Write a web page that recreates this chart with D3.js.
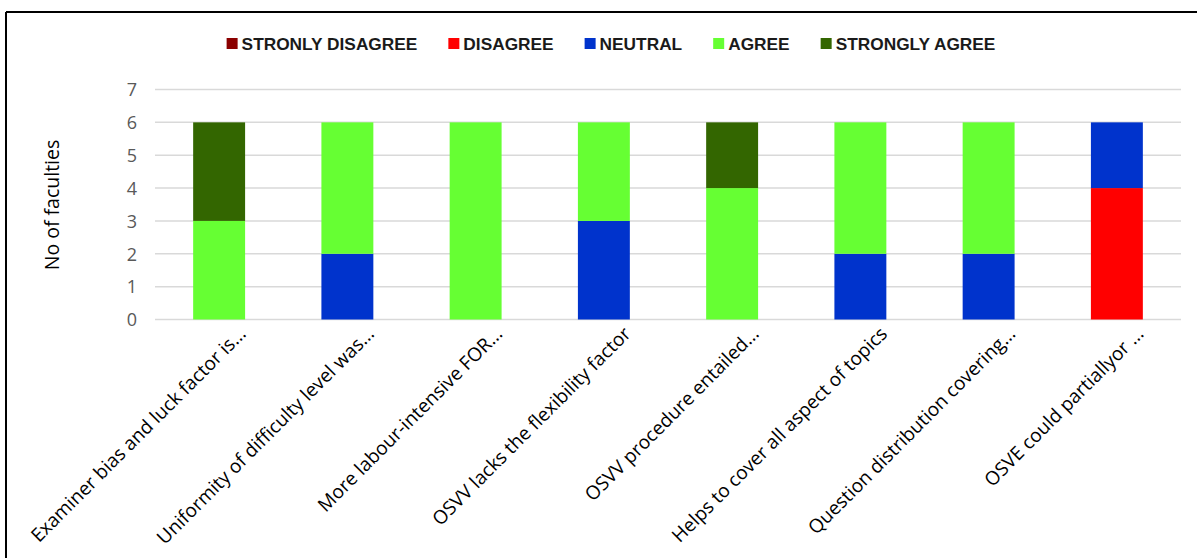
<!DOCTYPE html>
<html><head><meta charset="utf-8">
<script src="https://cdn.jsdelivr.net/npm/d3@7"></script>
<style>body{margin:0;background:#fff}svg{display:block}</style>
</head><body>
<svg id="c" width="1197" height="558"></svg>
<script>
const categories = [
  "Examiner bias and luck factor is...",
  "Uniformity of difficulty level was...",
  "More labour-intensive FOR...",
  "OSVV lacks the flexibility factor",
  "OSVV procedure entailed...",
  "Helps to cover all aspect of topics",
  "Question distribution covering...",
  "OSVE could partiallyor ..."
];
const seriesNames = ["STRONLY DISAGREE","DISAGREE","NEUTRAL","AGREE","STRONGLY AGREE"];
const seriesColors = ["#8B0000","#FF0000","#0033CC","#66FF33","#336600"];
const stronglyDisagree = [0,0,0,0,0,0,0,0];
const disagree         = [0,0,0,0,0,0,0,4];
const neutral          = [0,2,0,3,0,2,2,2];
const agree            = [3,4,6,3,4,4,4,0];
const stronglyAgree    = [3,0,0,0,2,0,0,0];
const yTicks = [0,1,2,3,4,5,6,7];

const seriesValues = [stronglyDisagree, disagree, neutral, agree, stronglyAgree];
const rows = categories.map((c,i)=>{
  const r = {cat:c};
  seriesNames.forEach((s,j)=>r[s]=seriesValues[j][i]);
  return r;
});

const svg = d3.select("#c");
const W=1197,H=558;
// frame
svg.append("line").attr("x1",6).attr("x2",W).attr("y1",12).attr("y2",12).attr("stroke","#000").attr("stroke-width",2);
svg.append("line").attr("x1",6).attr("x2",6).attr("y1",12).attr("y2",H).attr("stroke","#000").attr("stroke-width",2);

const x = d3.scaleBand().domain(categories).range([155,1181]).paddingInner(0.595).paddingOuter(0.2975);
const y = d3.scaleLinear().domain([0,7]).range([319.5,89.5]);

// gridlines
svg.append("g").selectAll("line").data(yTicks).join("line")
  .attr("x1",155).attr("x2",1181)
  .attr("y1",d=>y(d)).attr("y2",d=>y(d))
  .attr("stroke","#d9d9d9").attr("stroke-width",1.5);

// y axis labels
const yAxis = d3.axisLeft(y).tickValues(yTicks).tickSize(0).tickPadding(0).tickFormat(d3.format("d"));
const yg = svg.append("g").attr("transform","translate(137,0)").call(yAxis);
yg.select(".domain").remove();
yg.selectAll("text").attr("fill","#595959").style("font-family","'Open Sans'").style("font-size","18px").attr("dy","0.35em");

// y title
svg.append("text").attr("transform","translate(59,205) rotate(-90)")
  .attr("text-anchor","middle").style("font-family","'Open Sans'").style("font-size","19.5px")
  .attr("fill","#000").text("No of faculties");

// stacked bars
const stack = d3.stack().keys(seriesNames)(rows);
svg.append("g").selectAll("g").data(stack).join("g")
  .attr("fill",(d,i)=>seriesColors[i])
  .selectAll("rect").data(d=>d).join("rect")
  .attr("x",d=>x(d.data.cat))
  .attr("width",x.bandwidth())
  .attr("y",d=>y(d[1]))
  .attr("height",d=>y(d[0])-y(d[1]));

// x labels
svg.append("g").selectAll("text").data(categories).join("text")
  .attr("transform",d=>`translate(${x(d)+x.bandwidth()/2+28},335) rotate(-45)`)
  .attr("text-anchor","end")
  .style("font-family","'Open Sans'").style("font-size","19px").attr("fill","#000")
  .text(d=>d);

// legend
const lg = svg.append("g");
const items = [];
seriesNames.forEach((s,i)=>{
  const g = lg.append("g");
  g.append("rect").attr("x",0).attr("y",-6).attr("width",11).attr("height",11).attr("fill",seriesColors[i]);
  const t = g.append("text").attr("x",15).attr("y",0).attr("dy","0.35em")
    .style("font-family","'Liberation Sans'").style("font-weight","bold").style("font-size","17.3px")
    .attr("fill","#1a1a1a").text(s);
  const w = 15 + t.node().getComputedTextLength();
  items.push({g,w});
});
const gap = 31;
const total = d3.sum(items,d=>d.w) + gap*(items.length-1);
let start = 611 - total/2;
items.forEach(it=>{ it.g.attr("transform",`translate(${start},44)`); start += it.w + gap; });
</script>
</body></html>
